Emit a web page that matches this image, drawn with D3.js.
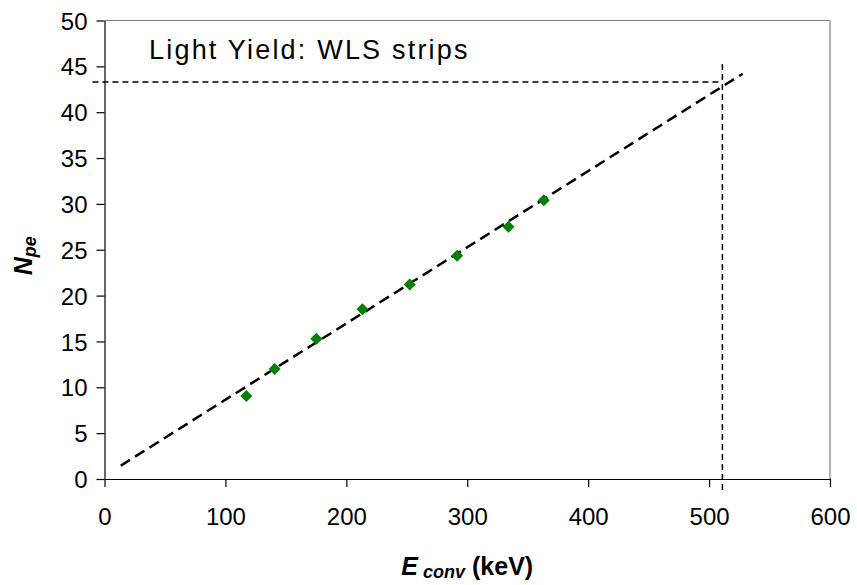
<!DOCTYPE html>
<html>
<head>
<meta charset="utf-8">
<script src="https://cdn.jsdelivr.net/npm/d3@7"></script>
<style>
html,body{margin:0;padding:0;background:#fff;}
svg{display:block;font-family:"Liberation Sans",Arial,sans-serif;}
</style>
</head>
<body>
<svg id="chart" width="857" height="585"></svg>
<script>
// Data
const energyKeV = [117.3, 140.7, 175.2, 213.3, 252.4, 291.6, 334.1, 363.3];
const nPe       = [9.05, 12.0, 15.3, 18.5, 21.2, 24.35, 27.5, 30.4];
const fitX = [13.4, 527.8];
const fitY = [1.45, 44.2];
const refE = 511;      // vertical marker (keV)
const refN = 43.3;     // horizontal marker (Npe)
const refVSpan = [-1.2, 45.7];
const refHSpan = [-10, 511];
const xTicks = [0, 100, 200, 300, 400, 500, 600];
const yTicks = [0, 5, 10, 15, 20, 25, 30, 35, 40, 45, 50];
const titleText = "Light Yield: WLS strips";

const svg = d3.select("#chart");
const L = 104.5, R = 830, T = 20.5, B = 479;
const x = d3.scaleLinear().domain([0, 600]).range([L, R]);
const y = d3.scaleLinear().domain([0, 50]).range([B, T]);

// frame: top & right grey
svg.append("line").attr("x1", L).attr("x2", R).attr("y1", T).attr("y2", T)
  .attr("stroke", "#808080").attr("stroke-width", 1.2);
svg.append("line").attr("x1", R).attr("x2", R).attr("y1", T).attr("y2", B)
  .attr("stroke", "#808080").attr("stroke-width", 1.2);

// axes
const xAxis = d3.axisBottom(x).tickValues(xTicks).tickSize(8).tickPadding(21).tickSizeOuter(0);
const yAxis = d3.axisLeft(y).tickValues(yTicks).tickSize(8).tickPadding(9).tickSizeOuter(0);
const gx = svg.append("g").attr("transform", `translate(0,${B})`).call(xAxis);
const gy = svg.append("g").attr("transform", `translate(${L},0)`).call(yAxis);
[gx, gy].forEach(g => {
  g.select(".domain").attr("stroke", "#000").attr("stroke-width", 1.2);
  g.selectAll(".tick line").attr("stroke", "#000").attr("stroke-width", 1.2);
  g.selectAll("text").attr("font-family", "Liberation Sans, Arial, sans-serif")
    .attr("font-size", 24).attr("fill", "#000");
});
gy.selectAll(".tick text").attr("dy", "0.36em");

// reference lines
svg.append("line")
  .attr("x1", x(refE)).attr("x2", x(refE))
  .attr("y1", y(refVSpan[0])).attr("y2", y(refVSpan[1]))
  .attr("stroke", "#000").attr("stroke-width", 1.5).attr("stroke-dasharray", "6,4");
svg.append("line")
  .attr("x1", x(refHSpan[0])).attr("x2", x(refHSpan[1]))
  .attr("y1", y(refN)).attr("y2", y(refN))
  .attr("stroke", "#000").attr("stroke-width", 1.5).attr("stroke-dasharray", "6,4");

// fit line
svg.append("path")
  .datum(fitX.map((d, i) => [d, fitY[i]]))
  .attr("d", d3.line().x(d => x(d[0])).y(d => y(d[1])))
  .attr("fill", "none").attr("stroke", "#000").attr("stroke-width", 2.5)
  .attr("stroke-dasharray", "11,6");

// data points (diamonds)
const sym = d3.symbol().type(d3.symbolSquare).size(72);
svg.append("g").selectAll("path")
  .data(energyKeV.map((d, i) => [d, nPe[i]]))
  .join("path")
  .attr("d", sym)
  .attr("transform", d => `translate(${x(d[0])},${y(d[1])}) rotate(45)`)
  .attr("fill", "#008000");

// title
svg.append("text").attr("x", 149).attr("y", 59)
  .attr("font-size", 27).attr("letter-spacing", 2.2).attr("fill", "#000")
  .text(titleText);

// x label
const xl = svg.append("text").attr("x", (L + R) / 2).attr("y", 575)
  .attr("text-anchor", "middle").attr("font-weight", "bold").attr("font-size", 25).attr("fill", "#000");
xl.append("tspan").attr("font-style", "italic").text("E");
xl.append("tspan").attr("font-style", "italic").attr("font-size", 18).attr("dy", 3).attr("dx", 5).text("conv");
xl.append("tspan").attr("dy", -3).text(" (keV)");

// y label
const yl = svg.append("text").attr("transform", `translate(32,${(T + B) / 2 + 6}) rotate(-90)`)
  .attr("text-anchor", "middle").attr("font-weight", "bold").attr("font-style", "italic")
  .attr("font-size", 25).attr("fill", "#000");
yl.append("tspan").text("N");
yl.append("tspan").attr("font-size", 18).attr("dy", 4).text("pe");
</script>
</body>
</html>
